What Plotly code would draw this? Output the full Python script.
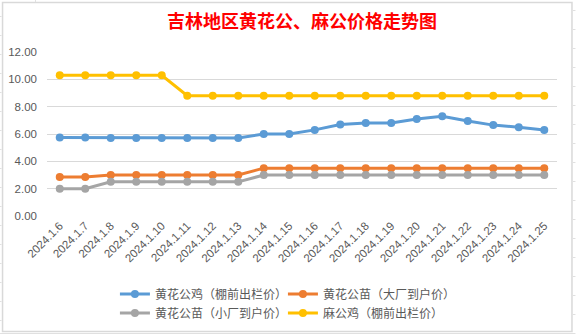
import plotly.graph_objects as go

dates = ["2024.1.6", "2024.1.7", "2024.1.8", "2024.1.9", "2024.1.10", "2024.1.11", "2024.1.12",
         "2024.1.13", "2024.1.14", "2024.1.15", "2024.1.16", "2024.1.17", "2024.1.18", "2024.1.19",
         "2024.1.20", "2024.1.21", "2024.1.22", "2024.1.23", "2024.1.24", "2024.1.25"]
huang_ji = [5.75, 5.75, 5.7, 5.7, 5.7, 5.7, 5.7, 5.7, 6.0, 6.0, 6.3, 6.7, 6.8, 6.8,
            7.1, 7.3, 6.95, 6.65, 6.5, 6.3]
huang_miao_da = [2.85, 2.85, 3.0, 3.0, 3.0, 3.0, 3.0, 3.0, 3.5, 3.5, 3.5, 3.5, 3.5, 3.5,
                 3.5, 3.5, 3.5, 3.5, 3.5, 3.5]
huang_miao_xiao = [2.0, 2.0, 2.5, 2.5, 2.5, 2.5, 2.5, 2.5, 3.0, 3.0, 3.0, 3.0, 3.0, 3.0,
                   3.0, 3.0, 3.0, 3.0, 3.0, 3.0]
ma_ji = [10.3, 10.3, 10.3, 10.3, 10.3, 8.8, 8.8, 8.8, 8.8, 8.8, 8.8, 8.8, 8.8, 8.8,
         8.8, 8.8, 8.8, 8.8, 8.8, 8.8]
y_ticks = [0, 2, 4, 6, 8, 10, 12]

series = [
    ("黄花公鸡（棚前出栏价）", huang_ji, "#5B9BD5", "legend"),
    ("黄花公苗（大厂到户价）", huang_miao_da, "#ED7D31", "legend"),
    ("黄花公苗（小厂到户价）", huang_miao_xiao, "#A5A5A5", "legend2"),
    ("麻公鸡（棚前出栏价）", ma_ji, "#FFC000", "legend2"),
]

W, H = 576, 334
L, R, T, B = 47, 557.5, 52, 216


def px(x):
    return (x - L) / (R - L)


def py(y):
    return (B - y) / (B - T)


def cy(y):
    return 1 - y / H


fig = go.Figure()
for name, vals, color, lg in series:
    fig.add_trace(go.Scatter(
        x=dates, y=vals, name=name, mode="lines+markers",
        line=dict(color=color, width=3),
        marker=dict(color=color, size=8),
        legend=lg,
    ))

legend_font = dict(family="Noto Sans CJK SC", size=12, color="#595959")
shapes = [
    dict(type="rect", xref="paper", yref="paper", x0=px(2.5), x1=px(572.5), y0=py(331.5), y1=py(2.5),
         line=dict(color="#D9D9D9", width=1.5), fillcolor="rgba(0,0,0,0)", layer="below"),
    dict(type="line", xref="paper", yref="paper", x0=px(35.5), x1=px(35.5), y0=py(0), y1=py(2),
         line=dict(color="#E0E0E0", width=1)),
    dict(type="line", xref="paper", yref="paper", x0=px(0), x1=px(576), y0=py(333.5), y1=py(333.5),
         line=dict(color="#E0E0E0", width=1)),
]
for yy in [10.5, 29.5, 48.5, 67.5, 86.5, 105.5, 124.5, 143.5, 162.5, 181.5, 200.5, 219.5,
           238.5, 257.5, 276.5, 295.5, 314.5]:
    shapes.append(dict(type="line", xref="paper", yref="paper", x0=px(573.5), x1=px(576),
                       y0=py(yy), y1=py(yy), line=dict(color="#E0E0E0", width=1)))
    shapes.append(dict(type="line", xref="paper", yref="paper", x0=px(0), x1=px(1.5),
                       y0=py(yy + 6), y1=py(yy + 6), line=dict(color="#E0E0E0", width=1)))

fig.update_layout(
    width=W, height=H,
    margin=dict(l=L, r=W - R, t=T, b=H - B, autoexpand=False),
    paper_bgcolor="white", plot_bgcolor="white",
    title=dict(text="吉林地区黄花公、麻公价格走势图", x=0.5, xref="paper", xanchor="center",
               y=1 - 22 / H, yref="container", yanchor="middle",
               font=dict(family="Noto Sans CJK SC", size=18, color="#FF0000", weight="bold")),
    xaxis=dict(type="category", tickangle=-45, showgrid=False, showline=False, zeroline=False,
               ticks="", tickfont=dict(family="Liberation Sans", size=11.5, color="#595959"),
               range=[-0.5, len(dates) - 0.5], automargin=False),
    yaxis=dict(range=[0, 12], tickvals=y_ticks, tickformat=".2f", showgrid=True,
               gridcolor="#D9D9D9", gridwidth=1, zeroline=False, showline=False,
               ticks="", ticklabelstandoff=9, automargin=False,
               tickfont=dict(family="Liberation Sans", size=11.5, color="#595959")),
    legend=dict(orientation="h", x=px(115), xanchor="left", y=cy(294), yref="container",
                yanchor="middle",
                font=legend_font, entrywidth=123, itemwidth=30, bgcolor="rgba(0,0,0,0)"),
    legend2=dict(orientation="h", x=px(115), xanchor="left", y=cy(313), yref="container",
                 yanchor="middle",
                 font=legend_font, entrywidth=123, itemwidth=30, bgcolor="rgba(0,0,0,0)"),
    shapes=shapes,
    showlegend=True,
)

fig.write_html("out.html")
